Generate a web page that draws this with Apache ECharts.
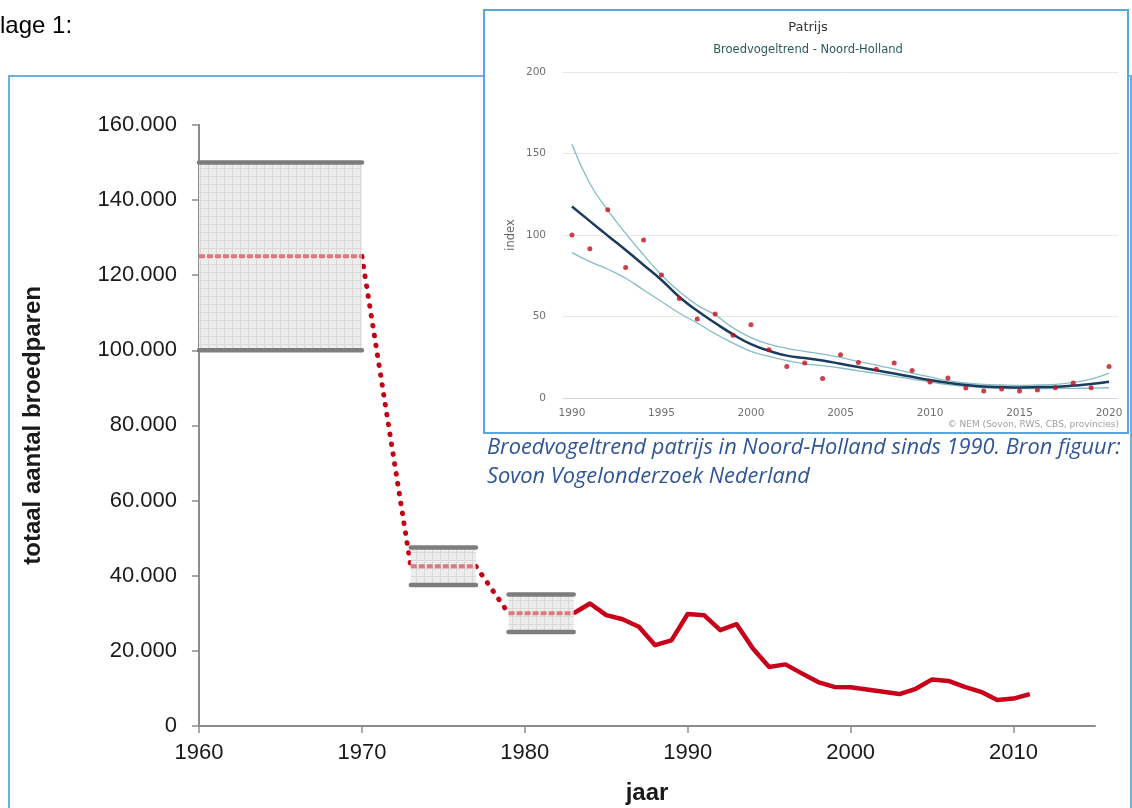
<!DOCTYPE html>
<html>
<head>
<meta charset="utf-8">
<script src="https://cdn.jsdelivr.net/npm/echarts@6/dist/echarts.min.js"></script>
<style>
html,body{margin:0;padding:0;background:#fff;}
#chart{width:1132px;height:808px;}
</style>
</head>
<body>
<div id="chart"></div>
<script>
// ---------- main chart data ----------
const mainXTicks = [1960, 1970, 1980, 1990, 2000, 2010];
const rangeStart = [1960, 1973, 1979];
const rangeEnd   = [1970, 1977, 1983];
const rangeLow   = [100000, 37500, 25000];
const rangeMid   = [125000, 42500, 30000];
const rangeHigh  = [150000, 47500, 35000];
const countYears = [1983,1984,1985,1986,1987,1988,1989,1990,1991,1992,1993,1994,1995,1996,1997,1998,1999,2000,2001,2002,2003,2004,2005,2006,2007,2008,2009,2010,2011];
const countPairs = [30000,32600,29500,28400,26400,21500,22800,29800,29500,25500,27100,20600,15700,16400,14000,11700,10400,10300,9700,9100,8500,9900,12400,12000,10400,9100,6900,7300,8500];

// ---------- inset chart data ----------
const insetYears = ['1990','1991','1992','1993','1994','1995','1996','1997','1998','1999','2000','2001','2002','2003','2004','2005','2006','2007','2008','2009','2010','2011','2012','2013','2014','2015','2016','2017','2018','2019','2020'];
const insetObserved = [100,91.5,115.5,80,97,75.5,61,48.5,51.5,38.5,45,29.6,19.4,21.4,12,26.5,21.8,17.6,21.4,16.9,9.8,12.2,6.1,4.3,5.5,4.3,4.9,6.3,9.2,6.3,19.4];
const insetTrend = [117.5,108.5,99.6,90.8,81.6,72.4,62,53.5,46,39,33,29,26,24.5,23,21,19,17,15,13,11,9.3,8,7.1,6.7,6.5,6.7,6.9,7.6,8.6,10];
const insetUpper = [155.7,131.6,115.3,101,87.8,75.5,65.3,57,51,43,37,33,30.5,28.6,26.9,24.9,22.4,20.2,17.8,15.3,12.9,10.6,9.2,8.4,8,7.8,8,8.4,9.6,11.6,15.3];
const insetLower = [89.2,83.7,79,73.5,66.3,59.2,52,46,39.4,33.7,28.6,25.5,23,21,19.8,18.4,16.7,15.1,13.3,11.6,9.8,8.2,7.1,6.3,5.9,5.7,5.7,5.9,5.9,6.1,6.3];

// ---------- build ----------
function makePattern(){
  const c = document.createElement('canvas');
  c.width = 8; c.height = 8;
  const g = c.getContext('2d');
  g.fillStyle = '#ededed'; g.fillRect(0,0,8,8);
  g.fillStyle = '#d9d9d9'; g.fillRect(0,0,8,1); g.fillRect(0,0,1,8);
  return c;
}
const pattern = {image: makePattern(), repeat: 'repeat'};

const rangeData = rangeStart.map((s,i)=>[s, rangeEnd[i], rangeLow[i], rangeMid[i], rangeHigh[i]]);
const connector1 = [[rangeEnd[0], rangeMid[0]], [rangeStart[1], rangeMid[1]]];
const connector2 = [[rangeEnd[1], rangeMid[1]], [rangeStart[2], rangeMid[2]]];
const countData = countYears.map((y,i)=>[y, countPairs[i]]);

const chart = echarts.init(document.getElementById('chart'), null, {renderer:'canvas'});

const dotStyle = {color:'#c40012', width:5, type:[0.5, 9.5], cap:'round'};

const option = {
  animation: false,
  backgroundColor: '#fff',
  grid: [
    {left:199, right:37, top:124.8, bottom:82, outerBoundsMode:'none', containLabel:false},
    {left:563, right:14, top:72, bottom:410, outerBoundsMode:'none', containLabel:false}
  ],
  xAxis: [
    {
      gridIndex:0, type:'value', min:1960, max:2015, interval:10,
      splitLine:{show:false},
      axisLine:{lineStyle:{color:'#8c8c8c', width:2}},
      axisTick:{length:7, customValues:mainXTicks, lineStyle:{color:'#8c8c8c', width:1.5}},
      axisLabel:{color:'#1a1a1a', fontSize:22, fontFamily:'Liberation Sans', margin:16,
        customValues:mainXTicks, formatter:v=> String(v)},
      name:'jaar', nameLocation:'middle', nameGap:55,
      nameTextStyle:{color:'#1a1a1a', fontSize:24, fontWeight:'bold', fontFamily:'Liberation Sans'}
    },
    {
      gridIndex:1, type:'category', data:insetYears, boundaryGap:true, z:20,
      axisLine:{lineStyle:{color:'#cfd6de', width:1}},
      axisTick:{alignWithLabel:true, length:6, lineStyle:{color:'#cfd6de'}, interval:(i,v)=> Number(v)%5===0},
      axisLabel:{color:'#707070', fontSize:10.5, fontFamily:'DejaVu Sans', margin:10, interval:(i,v)=> Number(v)%5===0},
      splitLine:{show:false}
    }
  ],
  yAxis: [
    {
      gridIndex:0, type:'value', min:0, max:160000, interval:20000,
      splitLine:{show:false},
      axisLine:{show:true, lineStyle:{color:'#8c8c8c', width:2}},
      axisTick:{show:true, length:7, lineStyle:{color:'#8c8c8c', width:1.5}},
      axisLabel:{color:'#1a1a1a', fontSize:22, fontFamily:'Liberation Sans', margin:22,
        formatter:v=> v===0 ? '0' : (v/1000)+'.000'},
      name:'totaal aantal broedparen', nameLocation:'middle', nameGap:154, nameRotate:90,
      nameTextStyle:{color:'#1a1a1a', fontSize:24, fontWeight:'bold', fontFamily:'Liberation Sans'}
    },
    {
      gridIndex:1, type:'value', min:0, max:200, interval:50, z:20,
      axisLine:{show:false}, axisTick:{show:false},
      splitLine:{lineStyle:{color:'#e8e8e8', width:1}},
      axisLabel:{color:'#707070', fontSize:10.5, fontFamily:'DejaVu Sans', margin:17},
      name:'index', nameLocation:'middle', nameGap:46, nameRotate:90,
      nameTextStyle:{color:'#666', fontSize:11.5, fontFamily:'DejaVu Sans'}
    }
  ],
  graphic: [
    {type:'text', left:0, top:14, z:1, style:{text:'lage 1:', fill:'#000', font:'24px "Liberation Sans"'}},
    {type:'rect', z:1, shape:{x:9, y:76, width:1122, height:800},
      style:{fill:null, stroke:'#6fb0e0', lineWidth:2}},
    {type:'rect', z:10, shape:{x:484, y:10, width:644, height:423},
      style:{fill:'#fff', stroke:'#5aa6dc', lineWidth:2}},
    {type:'text', z:30, x:808, y:28, style:{text:'Patrijs', fill:'#333', font:'13px "DejaVu Sans"', align:'center', verticalAlign:'middle'}},
    {type:'text', z:30, x:808, y:50, style:{text:'Broedvogeltrend - Noord-Holland', fill:'#2b5a5c', font:'11.5px "DejaVu Sans"', align:'center', verticalAlign:'middle'}},
    {type:'text', z:30, x:1119, y:425, style:{text:'© NEM (Sovon, RWS, CBS, provincies)', fill:'#a0a0a0', font:'9px "DejaVu Sans"', align:'right', verticalAlign:'middle'}},
    {type:'text', z:30, x:487, y:448, style:{text:'Broedvogeltrend patrijs in Noord-Holland sinds 1990. Bron figuur:', fill:'#2f5597', font:'italic 21.8px "Open Sans"', align:'left', verticalAlign:'middle'}},
    {type:'text', z:30, x:487, y:477, style:{text:'Sovon Vogelonderzoek Nederland', fill:'#2f5597', font:'italic 21.8px "Open Sans"', align:'left', verticalAlign:'middle'}}
  ],
  series: [
    {type:'line', xAxisIndex:0, yAxisIndex:0, data:connector1, symbol:'none', lineStyle:dotStyle, z:2},
    {type:'line', xAxisIndex:0, yAxisIndex:0, data:connector2, symbol:'none', lineStyle:dotStyle, z:2},
    {type:'line', xAxisIndex:0, yAxisIndex:0, data:countData, symbol:'none',
      lineStyle:{color:'#c8001a', width:4.5, join:'round'}, z:3},
    {
      type:'custom', xAxisIndex:0, yAxisIndex:0, z:4,
      data: rangeData,
      encode:{x:[0,1], y:[2,3,4]},
      renderItem:function(params, api){
        const x0 = api.value(0), x1 = api.value(1);
        const lo = api.value(2), mid = api.value(3), hi = api.value(4);
        const pTL = api.coord([x0, hi]);
        const pBR = api.coord([x1, lo]);
        const pM0 = api.coord([x0, mid]);
        const pM1 = api.coord([x1, mid]);
        return {
          type:'group',
          children:[
            {type:'rect', shape:{x:pTL[0], y:pTL[1], width:pBR[0]-pTL[0], height:pBR[1]-pTL[1]},
              style:{fill:pattern}},
            {type:'line', shape:{x1:pTL[0], y1:pTL[1], x2:pBR[0], y2:pTL[1]},
              style:{stroke:'#7d7d7d', lineWidth:4.5, lineCap:'round'}},
            {type:'line', shape:{x1:pTL[0], y1:pBR[1], x2:pBR[0], y2:pBR[1]},
              style:{stroke:'#7d7d7d', lineWidth:4.5, lineCap:'round'}},
            {type:'line', shape:{x1:pM0[0], y1:pM0[1], x2:pM1[0], y2:pM1[1]},
              style:{stroke:'#dc7a7e', lineWidth:4, lineDash:[6,2]}}
          ]
        };
      }
    },
    {type:'line', xAxisIndex:1, yAxisIndex:1, data:insetUpper, smooth:true, symbol:'none', z:21,
      lineStyle:{color:'#86bcc6', width:1.3}},
    {type:'line', xAxisIndex:1, yAxisIndex:1, data:insetLower, smooth:true, symbol:'none', z:21,
      lineStyle:{color:'#86bcc6', width:1.3}},
    {type:'line', xAxisIndex:1, yAxisIndex:1, data:insetTrend, smooth:true, symbol:'none', z:22,
      lineStyle:{color:'#1b3c5e', width:2.5}},
    {type:'scatter', xAxisIndex:1, yAxisIndex:1, data:insetObserved, symbol:'circle', symbolSize:5, z:23,
      itemStyle:{color:'#c0101c'}}
  ]
};
chart.setOption(option);
</script>
</body>
</html>
